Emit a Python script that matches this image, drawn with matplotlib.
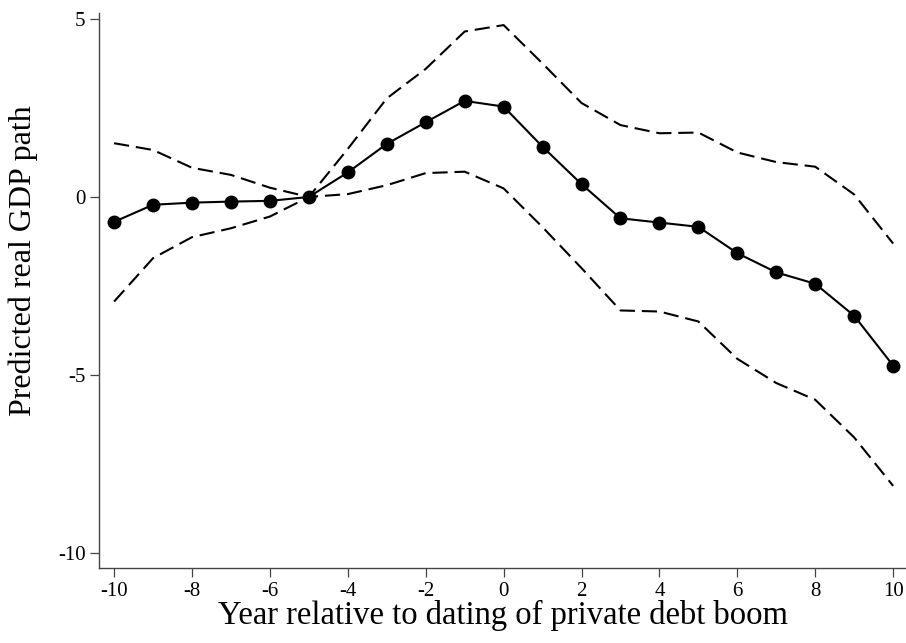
import matplotlib
matplotlib.use("Agg")
import matplotlib.pyplot as plt
import numpy as np

# years relative to the boom date
years = np.arange(-10, 11)

# point estimate of the real GDP path
gdp_path = [-0.70, -0.22, -0.16, -0.13, -0.11, 0.0, 0.69, 1.49, 2.10, 2.70, 2.54,
            1.41, 0.36, -0.60, -0.72, -0.84, -1.58, -2.12, -2.44, -3.34, -4.74]

# confidence band
upper = [1.51, 1.32, 0.82, 0.62, 0.26, 0.0, 1.35, 2.77, 3.60, 4.65, 4.83,
         3.75, 2.64, 2.02, 1.79, 1.81, 1.25, 0.98, 0.85, 0.07, -1.31]
lower = [-2.94, -1.72, -1.13, -0.88, -0.55, 0.0, 0.08, 0.33, 0.67, 0.71, 0.24,
         -0.85, -2.00, -3.19, -3.22, -3.50, -4.55, -5.23, -5.70, -6.76, -8.12]

xticks = [-10, -8, -6, -4, -2, 0, 2, 4, 6, 8, 10]
yticks = [-10, -5, 0, 5]

plt.rcParams['font.family'] = ['Liberation Serif', 'DejaVu Serif']
plt.rcParams['axes.unicode_minus'] = False

fig = plt.figure(figsize=(9.06, 6.43), dpi=100)
ax = fig.add_axes([99.3 / 906, 1 - 567.7 / 643, 1 - 99.3 / 906, (567.7 - 13) / 643])

ax.plot(years, upper, color='black', lw=1.5, linestyle=(0, (7.3, 3.3)))
ax.plot(years, lower, color='black', lw=1.5, linestyle=(0, (7.3, 3.3)))
ax.plot(years, gdp_path, color='black', lw=1.5, marker='o', markersize=9)

ax.set_xlim(-10.38, 10.33)
ax.set_ylim(-10.42, 5.17)
ax.set_xticks(xticks)
ax.set_yticks(yticks)

for side in ['top', 'right']:
    ax.spines[side].set_visible(False)
for side in ['left', 'bottom']:
    ax.spines[side].set_color('#444444')
    ax.spines[side].set_linewidth(1.0)

ax.tick_params(axis='both', direction='out', length=6.5, width=0.9,
               color='#444444', labelsize=15, pad=3.5)
ax.tick_params(axis='x', pad=4)

ax.set_xlabel("Year relative to dating of private debt boom", fontsize=23.5, labelpad=-1)
fig.text(23 / 906, 1 - 261 / 643, "Predicted real GDP path", rotation=90,
         ha='center', va='center', fontsize=23)

fig.savefig("out.png", dpi=100)
